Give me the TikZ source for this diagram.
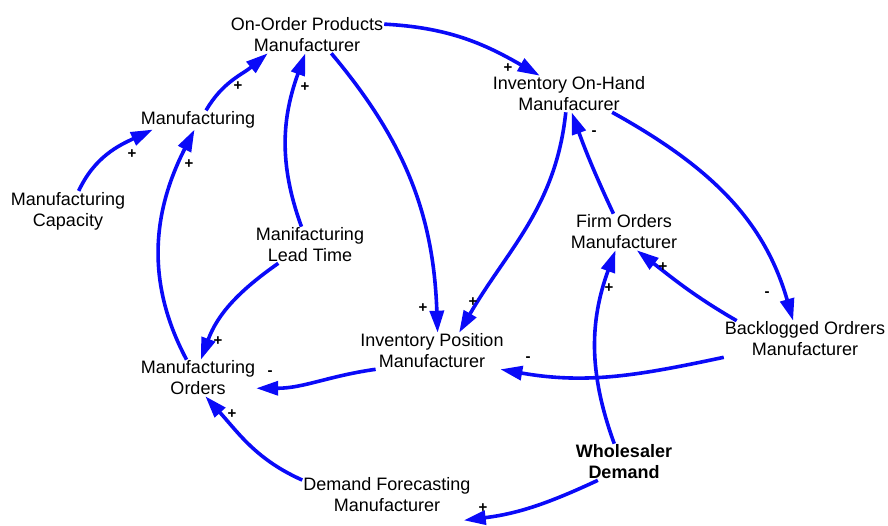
\documentclass[tikz,border=0pt]{standalone}
\usepackage{fontspec}
\setmainfont{Liberation Sans}
\usepackage{tikz}
\definecolor{lnk}{HTML}{0A0AF8}
\usetikzlibrary{arrows.meta}

\begin{document}
\begin{tikzpicture}[x=1pt,y=1pt,
	var/.style={align=center, inner sep=1pt, font=\fontsize{18}{21}\selectfont},
	flow/.style={draw=lnk, line width=3.6pt, -{Triangle[length=22pt,width=14pt]}},
	sgn/.style={inner sep=0pt, font=\fontsize{15}{15}\selectfont\bfseries}]
			\useasboundingbox (0,0) rectangle (888,525);

			% variables
			\node[var] (onorder) at (307,490) {On-Order Products\\Manufacturer};
			\node[var] (onhand) at (569,431) {Inventory On-Hand\\Manufacurer};
			\node[var] (mfg) at (198,405) {Manufacturing};
			\node[var] (mcap) at (68,314) {Manufacturing\\Capacity};
			\node[var] (lead) at (310,280) {Manifacturing\\Lead Time};
			\node[var] (firm) at (624,293) {Firm Orders\\Manufacturer};
			\node[var] (invpos) at (432,174) {Inventory Position\\Manufacturer};
			\node[var] (backlog) at (805,186) {Backlogged Ordrers\\Manufacturer};
			\node[var] (morders) at (198,147) {Manufacturing\\Orders};
			\node[var, font=\fontsize{18}{21}\selectfont\bfseries] (wdemand) at (624,63) {Wholesaler\\Demand};
			\node[var] (dforecast) at (387,30) {Demand Forecasting\\Manufacturer};

			% links
			\draw[flow] (mcap.62) to[out=65,in=205] (mfg.192);
			\draw[flow] (mfg.50) to[out=60,in=220] (onorder.205);
			\draw[flow] (lead.115) to[out=110,in=250] (onorder.265);
			\draw[flow] (morders.122) to[out=118,in=243] (mfg.250);
			\draw[flow] (lead.210) to[out=215,in=70] (morders.81);
			\draw[flow] (onorder.323) to[out=-50,in=92] (invpos.73);
			\draw[flow] (onorder.8) to[out=-3,in=150] (onhand.148);
			\draw[flow] (onhand.260) to[out=-96,in=60] (invpos.34);
			\draw[flow] (firm.120) to[out=115,in=-70] (onhand.278);
			\draw[flow] (onhand.337) to[out=-29,in=106] (backlog.123);
			\draw[flow] (backlog.165) to[out=150,in=-38] (firm.305);
			\draw[flow] (backlog.south west) to[out=192,in=-10] (invpos.345);
			\draw[flow] (invpos.198) to[out=188,in=0] (morders.350);
			\draw[flow] (wdemand.118) to[out=110,in=250] (firm.245);
			\draw[flow] (dforecast.170) to[out=156,in=-48] (morders.292);
			\draw[flow] (wdemand.215) to[out=205,in=7] ([shift={(-8,-7)}]dforecast.south east);

			% polarities
			\foreach \x/\y/\s [count=\i] in {132/371/+, 238/439/+, 305/438/+, 189/361/+,
				218/184/+, 423/217/+, 508/457/+, 473/223/+, 594/392/-, 767/231/-,
				663/258/+, 528/166/-, 270/152/-, 609/237/+, 232/111/+, 483/17/+}
				\node[sgn] (p\i) at (\x,\y) {\s};
		\end{tikzpicture}
\end{document}
